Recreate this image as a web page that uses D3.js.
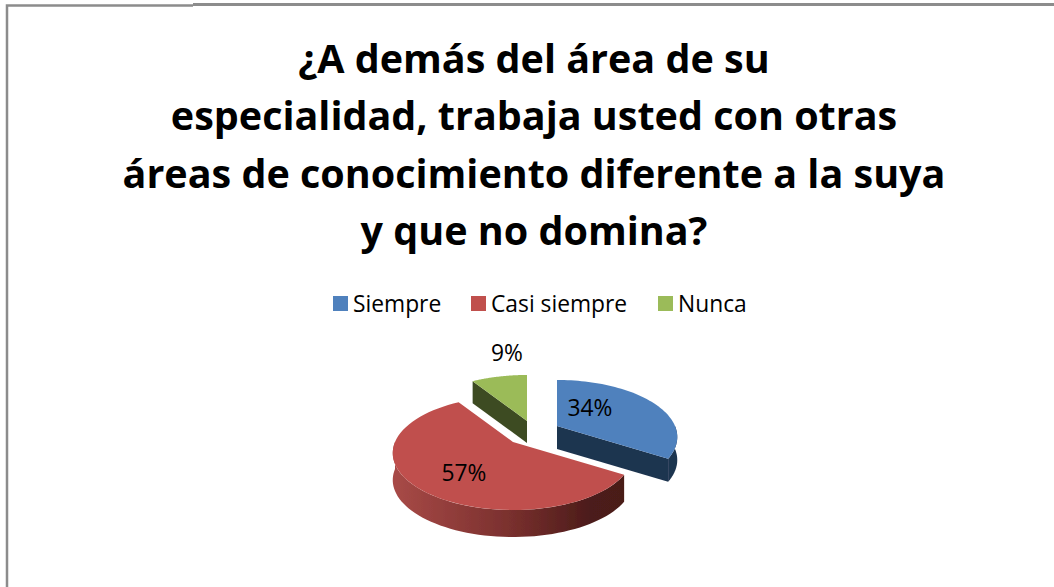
<!DOCTYPE html>
<html><head><meta charset="utf-8">
<script src="https://cdn.jsdelivr.net/npm/d3@7/dist/d3.min.js"></script>
<style>html,body{margin:0;background:#fff}svg{display:block;font-family:"Open Sans",sans-serif}</style>
</head><body><div id="c"></div>
<script>
const categories = ["Siempre","Casi siempre","Nunca"];
const values = [34,57,9];
const labels = ["34%","57%","9%"];
const titleLines = ["¿A demás del área de su","especialidad, trabaja usted con otras","áreas de conocimiento diferente a la suya","y que no domina?"];
const topColors = ["#4f81bd","#c0504d","#9bbb59"];
const sideColors = ["#1f344f","url(#redWall)","#3e4b23"];

const W=1054,H=587;
const svg=d3.select("#c").append("svg").attr("width",W).attr("height",H);
const defs=svg.append("defs");
defs.append("filter").attr("id","soft").append("feGaussianBlur").attr("stdDeviation",0.5);

// frame
svg.append("path").attr("d",d3.line()([[7,H],[7,5.5],[193,5.5]])).attr("fill","none").attr("stroke","#8c8c8c").attr("stroke-width",2.5);
svg.append("path").attr("d",d3.line()([[193,4.5],[W,4.5]])).attr("fill","none").attr("stroke","#8c8c8c").attr("stroke-width",3);

// title
const titleY=[73,130,188,245];
svg.append("g").selectAll("text").data(titleLines).join("text")
  .attr("x",534).attr("y",(d,i)=>titleY[i]).attr("text-anchor","middle")
  .attr("font-size",39.5).attr("font-weight",700).attr("fill","#000").text(d=>d);

// legend
const legX=[333,471,658];
const leg=svg.append("g").selectAll("g").data(categories).join("g").attr("transform",(d,i)=>`translate(${legX[i]},296)`);
leg.append("rect").attr("width",15).attr("height",15).attr("fill",(d,i)=>topColors[i]);
leg.append("text").attr("x",20).attr("y",16).attr("font-size",22.8).attr("fill","#000").text(d=>d);

// gradient
const grad=defs.append("linearGradient").attr("id","redWall").attr("gradientUnits","userSpaceOnUse")
  .attr("x1",393).attr("x2",625).attr("y1",0).attr("y2",0);
[[0,"#a84a47"],[0.5,"#7a302e"],[0.85,"#4c1c1a"],[1,"#4a1b19"]].forEach(s=>grad.append("stop").attr("offset",s[0]).attr("stop-color",s[1]));

// pie in a tilted perspective
const rx=118, ry=54.9, persp=0.193;
const apex=[[557,426],[513,442],[527,421]];
const depth=[23,27,22];
const slices=d3.pie().sort(null)(values);
const project=(a,c)=>{const s=1/(1+persp*Math.cos(a));return [c[0]+rx*Math.sin(a)*s,c[1]-ry*Math.cos(a)*s];};
const line=d3.line();
const rim=(a0,a1,c)=>d3.range(0,61).map(k=>project(a0+(a1-a0)*k/60,c));
const down=(pts,d)=>pts.map(p=>[p[0],p[1]+d]).reverse();
const pie=svg.append("g").attr("filter","url(#soft)");
[2,0,1].forEach(i=>{
  const sl=slices[i],c=apex[i],dz=depth[i],g=pie.append("g");
  const endP=project(sl.endAngle,c), startP=project(sl.startAngle,c);
  // cut faces
  if(i===0) g.append("path").attr("d",line([c,endP,[endP[0],endP[1]+dz],[c[0],c[1]+dz]])+"Z").attr("fill",sideColors[i]);
  if(i===2) g.append("path").attr("d",line([c,startP,[startP[0],startP[1]+dz],[c[0],c[1]+dz]])+"Z").attr("fill",sideColors[i]);
  // outer wall, front half only
  const a0=Math.max(sl.startAngle,Math.PI/2), a1=Math.min(sl.endAngle,Math.PI*1.5);
  if(a1>a0){const r=rim(a0,a1,c);g.append("path").attr("d",line(r.concat(down(r,dz)))+"Z").attr("fill",sideColors[i]);}
  // top face
  g.append("path").attr("d",line([c].concat(rim(sl.startAngle,sl.endAngle,c)))+"Z").attr("fill",topColors[i]);
});

// labels
const labX=[590,464,507], labY=[416,481,361];
svg.append("g").selectAll("text").data(labels).join("text")
  .attr("x",(d,i)=>labX[i]).attr("y",(d,i)=>labY[i]).attr("text-anchor","middle")
  .attr("font-size",22.8).attr("fill","#000").text(d=>d);
</script></body></html>
